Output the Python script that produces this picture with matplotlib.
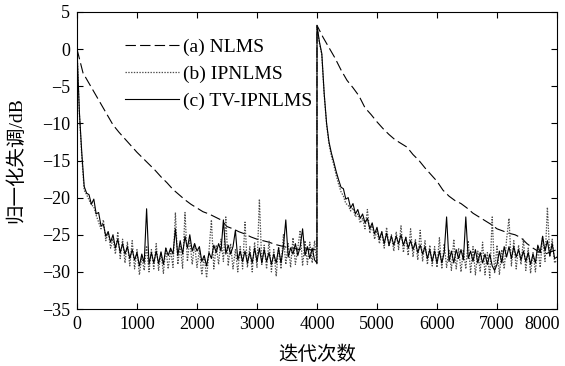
import numpy as np
import matplotlib
matplotlib.use("Agg")
import matplotlib.pyplot as plt
from matplotlib.transforms import ScaledTranslation

plt.rcParams['font.family'] = ['Liberation Serif', 'Noto Sans CJK SC']
plt.rcParams['lines.scale_dashes'] = False

# ---------------- data ----------------
legend_labels = ["(a) NLMS", "(b) IPNLMS", "(c) TV-IPNLMS"]
xlabel = "迭代次数"
ylabel = "归一化失调/dB"
xticks = [0, 1000, 2000, 3000, 4000, 5000, 6000, 7000, 8000]
yticks = [5, 0, -5, -10, -15, -20, -25, -30, -35]

# NLMS, sampled every 100 iterations, segment ends at 3999 and 8000
nlms_seg1 = [0.0, -3.2, -4.6, -6.0, -7.4, -8.8, -10.2, -11.2, -12.1, -13.0,
             -13.9, -14.7, -15.5, -16.3, -17.2, -18.0, -18.9, -19.6, -20.3, -20.9,
             -21.4, -21.9, -22.2, -22.6, -23.0, -23.9, -24.2, -24.6, -24.9, -25.3,
             -25.6, -25.8, -26.0, -26.3, -26.5, -26.7, -26.8, -27.0, -26.9, -27.0]
nlms_end1 = -27.0
nlms_seg2 = [3.2, 1.6, 0.2, -1.2, -2.8, -4.2, -5.2, -6.3, -7.9, -8.8,
             -9.8, -10.7, -11.5, -12.2, -12.7, -13.2, -14.2, -15.0, -16.0, -16.9,
             -17.8, -19.0, -19.8, -20.4, -20.8, -21.4, -22.1, -22.6, -23.1, -23.6,
             -24.2, -24.5, -24.8, -25.0, -25.4, -26.2, -26.8, -27.3, -27.6, -27.3,
             -27.0]

# IPNLMS, sampled every 40 iterations
ipnlms_seg1 = [0.0, -8.8, -14.5, -19.0, -19.6, -20.3, -21.0, -21.2, -22.4, -23.3,
               -24.2, -23.0, -25.8, -24.6, -26.8, -25.5, -27.6, -24.6, -28.2, -25.6,
               -28.8, -26.0, -29.2, -25.8, -29.6, -27.0, -30.4, -28.0, -29.8, -26.5,
               -30.0, -27.0, -29.6, -26.2, -29.8, -27.4, -30.2, -26.8, -29.6, -27.0,
               -29.4, -22.0, -29.0, -26.4, -29.5, -22.0, -28.6, -25.6, -29.0, -26.2,
               -29.4, -27.0, -30.4, -27.8, -30.8, -27.2, -23.0, -29.6, -26.4, -29.0,
               -25.6, -28.6, -22.6, -29.2, -26.2, -29.6, -27.0, -30.0, -26.6, -29.6,
               -23.3, -29.4, -26.6, -30.0, -26.0, -29.4, -20.2, -29.0, -26.4, -29.6,
               -25.8, -30.0, -27.0, -30.6, -26.6, -29.6, -25.0, -29.0, -26.2, -29.4,
               -25.4, -29.0, -26.8, -24.4, -29.2, -25.8, -29.0, -26.0, -28.8, -25.8]
ipnlms_end1 = -29.0
ipnlms_seg2 = [3.0, 0.8, -0.8, -6.2, -10.2, -12.8, -14.4, -15.6, -17.0, -18.2,
               -19.2, -19.8, -20.8, -21.0, -21.8, -21.4, -22.6, -22.2, -23.4, -22.8,
               -24.2, -21.6, -24.8, -23.6, -25.6, -24.4, -26.2, -24.6, -26.8, -24.0,
               -26.6, -25.0, -27.2, -24.6, -27.0, -23.8, -27.4, -25.2, -27.8, -24.2,
               -28.0, -25.6, -28.4, -24.4, -28.6, -25.8, -29.0, -26.4, -29.2, -26.6,
               -29.4, -25.4, -29.6, -26.2, -29.4, -27.0, -29.8, -25.6, -29.6, -26.8,
               -30.0, -27.0, -29.6, -25.8, -30.2, -26.6, -30.4, -27.2, -30.0, -26.0,
               -30.4, -27.4, -30.8, -22.6, -30.2, -26.4, -30.4, -27.0, -29.6, -25.6,
               -22.8, -29.2, -25.8, -29.6, -26.4, -29.0, -25.6, -29.8, -26.8, -30.2,
               -27.4, -30.0, -26.6, -29.4, -25.2, -28.6, -21.3, -28.0, -25.6, -28.8]
ipnlms_end2 = -28.4

# TV-IPNLMS, sampled every 40 iterations
tv_seg1 = [0.0, -8.5, -14.0, -18.5, -19.4, -19.6, -20.9, -20.2, -22.2, -22.0,
           -23.8, -23.6, -25.2, -24.6, -26.0, -25.0, -26.8, -25.6, -27.4, -26.2,
           -27.6, -26.6, -28.2, -27.0, -28.4, -27.4, -29.2, -27.6, -28.8, -21.5,
           -29.0, -27.4, -28.8, -27.2, -28.9, -27.3, -29.0, -26.8, -27.8, -26.8,
           -27.6, -24.2, -27.8, -25.8, -27.6, -25.2, -26.8, -25.0, -27.2, -26.2,
           -27.2, -26.6, -28.6, -27.8, -29.2, -27.4, -28.2, -26.4, -27.4, -26.2,
           -27.2, -23.0, -27.6, -26.4, -27.6, -26.6, -24.4, -28.4, -27.2, -28.6,
           -27.2, -28.8, -27.4, -28.8, -26.8, -28.6, -26.8, -28.8, -27.0, -28.6,
           -27.4, -29.0, -27.6, -28.8, -26.8, -28.8, -26.6, -23.0, -28.0, -26.8,
           -27.6, -26.2, -27.8, -26.6, -24.2, -27.8, -26.6, -28.2, -26.8, -28.4]
tv_end1 = -28.8
tv_seg2 = [3.2, 1.0, -0.6, -6.0, -10.0, -12.5, -14.0, -15.2, -16.5, -17.6,
           -18.6, -18.8, -20.2, -20.0, -21.4, -20.8, -22.2, -21.6, -22.8, -22.2,
           -23.4, -22.8, -24.2, -23.4, -24.9, -24.0, -25.6, -24.6, -26.2, -24.8,
           -26.4, -25.2, -26.4, -25.2, -26.2, -25.0, -26.4, -25.4, -26.8, -25.8,
           -27.0, -26.0, -27.4, -26.4, -27.6, -26.6, -28.2, -27.0, -28.6, -27.2,
           -28.8, -27.2, -28.8, -27.4, -22.6, -28.6, -27.2, -28.8, -27.0, -28.2,
           -27.0, -28.4, -22.6, -28.2, -27.2, -28.6, -27.0, -28.8, -27.4, -28.8,
           -27.6, -29.0, -27.6, -29.2, -29.8, -29.0, -27.2, -28.8, -26.6, -28.0,
           -26.6, -28.2, -26.6, -28.0, -27.0, -28.4, -27.2, -28.6, -27.4, -29.0,
           -27.6, -28.8, -26.4, -27.4, -25.2, -27.2, -25.8, -27.8, -26.2, -28.2]
tv_end2 = -28.0

# ---------------- iteration grids ----------------
x_coarse = np.concatenate([np.arange(0, 4000, 100), [3999], np.arange(4000, 8001, 100)])
x_fine = np.concatenate([np.arange(0, 4000, 40), [3999], np.arange(4000, 8000, 40), [8000]])

nlms = np.array(nlms_seg1 + [nlms_end1] + nlms_seg2)
ipnlms = np.array(ipnlms_seg1 + [ipnlms_end1] + ipnlms_seg2 + [ipnlms_end2])
tv = np.array(tv_seg1 + [tv_end1] + tv_seg2 + [tv_end2])

# ---------------- figure ----------------
fig = plt.figure(figsize=(5.65, 3.66), dpi=100)
ax = fig.add_axes([77/565, 1 - 309/366, 480/565, 297/366])

l1, = ax.plot(x_coarse, nlms, color='black', lw=0.8, ls=(0, (7.5, 3.0)))
l2, = ax.plot(x_fine, ipnlms, color='0.3', lw=0.9, ls=(0, (1.0, 1.0)))
l3, = ax.plot(x_fine, tv, color='black', lw=0.8, ls='-')

ax.set_xlim(0, 8000)
ax.set_ylim(-35, 5)
ax.set_xticks(xticks)
ax.set_yticks(yticks)
ax.tick_params(direction='in', top=True, right=True, length=4, width=0.8,
               labelsize=13, pad=5)
for s in ax.spines.values():
    s.set_linewidth(0.8)

# last x tick label is pulled inside the figure, as in the reference
last = ax.get_xticklabels()[-1]
last.set_horizontalalignment('right')
last.set_transform(last.get_transform() + ScaledTranslation(3/100, 0, fig.dpi_scale_trans))

ax.set_xlabel(xlabel, fontsize=14, labelpad=9)
ax.set_ylabel(ylabel, fontsize=14, labelpad=12)

leg = ax.legend([l1, l2, l3], legend_labels, loc='upper left',
                bbox_to_anchor=(0.1, 0.912), frameon=False, fontsize=14,
                handlelength=2.8, handletextpad=0.2, labelspacing=0.48,
                borderpad=0, borderaxespad=0)

fig.savefig("out.png", dpi=100)
